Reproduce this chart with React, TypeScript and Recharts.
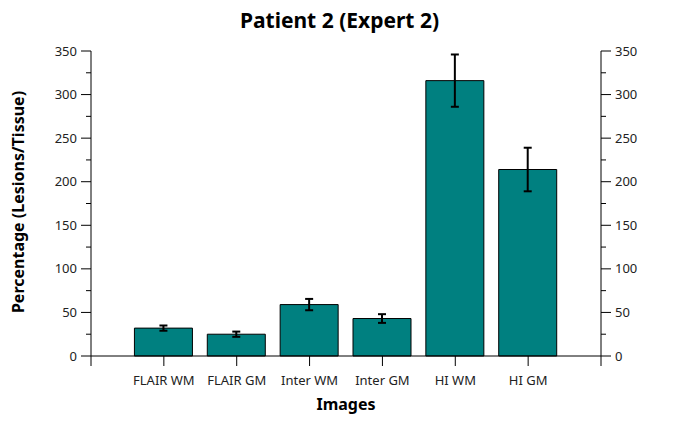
import { ComposedChart, Bar, Line, XAxis, YAxis, ErrorBar } from 'recharts'

document.body.style.margin = '0'

const categories = ['FLAIR WM', 'FLAIR GM', 'Inter WM', 'Inter GM', 'HI WM', 'HI GM']
const values = [32, 25, 59, 43, 316, 214]
const errors = [3, 3, 6.5, 5, 30, 25]
const yTicks = [0, 25, 50, 75, 100, 125, 150, 175, 200, 225, 250, 275, 300, 325, 350]
const xTicks = [0, 1, 2, 3, 4, 5, 6, 7]

const data = categories.map((name, i) => ({ pos: i + 1, name, value: values[i], err: errors[i] }))

const FONT = '"Noto Sans", sans-serif'

function LeftTick(props: any) {
    const { x, y, payload } = props
    const axisX = x + 14
    const major = payload.value % 50 === 0
    return (
        <g>
            <line x1={axisX} x2={axisX - (major ? 10 : 5)} y1={y} y2={y} stroke="#000" />
            {major && (
                <text x={axisX - 14} y={y} dy="0.35em" textAnchor="end" fontSize={13} fill="#222" fontFamily={FONT}>
                    {payload.value}
                </text>
            )}
        </g>
    )
}

function RightTick(props: any) {
    const { x, y, payload } = props
    const axisX = x - 14
    const major = payload.value % 50 === 0
    return (
        <g>
            <line x1={axisX} x2={axisX + (major ? 10 : 5)} y1={y} y2={y} stroke="#000" />
            {major && (
                <text x={axisX + 14} y={y} dy="0.35em" textAnchor="start" fontSize={13} fill="#222" fontFamily={FONT}>
                    {payload.value}
                </text>
            )}
        </g>
    )
}

export default function App() {
    return (
        <div style={{ position: 'relative', width: 679, height: 425, fontFamily: FONT, background: '#fff' }}>
            <ComposedChart width={679} height={425} data={data} margin={{ top: 51, right: 0, bottom: 0, left: 0 }}>
                <XAxis
                    dataKey="pos"
                    type="number"
                    domain={[0, 7]}
                    ticks={xTicks}
                    interval={0}
                    height={69}
                    stroke="#000"
                    tickSize={10}
                    tickMargin={10}
                    tick={{ fontSize: 13, fill: '#222', fontFamily: FONT }}
                    tickFormatter={(v: number) => categories[v - 1] ?? ''}
                />
                <YAxis
                    yAxisId="left"
                    orientation="left"
                    width={91}
                    domain={[0, 350]}
                    ticks={yTicks}
                    interval={0}
                    stroke="#000"
                    tickLine={false}
                    tickSize={10}
                    tickMargin={4}
                    tick={<LeftTick />}
                />
                <YAxis
                    yAxisId="right"
                    orientation="right"
                    width={78}
                    domain={[0, 350]}
                    ticks={yTicks}
                    interval={0}
                    stroke="#000"
                    tickLine={false}
                    tickSize={10}
                    tickMargin={4}
                    tick={<RightTick />}
                />
                <Bar yAxisId="left" dataKey="value" fill="#008080" stroke="#000" strokeWidth={1} barSize={58} isAnimationActive={false}>
                    <ErrorBar dataKey="err" width={4} stroke="#000" strokeWidth={2} direction="y" />
                </Bar>
                {/* invisible series so the right axis gets its ticks */}
                <Line yAxisId="right" dataKey="value" stroke="none" dot={false} activeDot={false} legendType="none" isAnimationActive={false} />
            </ComposedChart>
            <div style={{ position: 'absolute', top: 6, left: 0, width: 679, textAlign: 'center', fontSize: 21, lineHeight: '28px', fontWeight: 'bold', color: '#000' }}>
                Patient 2 (Expert 2)
            </div>
            <div style={{ position: 'absolute', top: 393, left: 91, width: 510, textAlign: 'center', fontSize: 16, lineHeight: '22px', fontWeight: 'bold', color: '#000' }}>
                Images
            </div>
            <div style={{ position: 'absolute', left: 18, top: 202, transform: 'translate(-50%, -50%) rotate(-90deg)', whiteSpace: 'nowrap', fontSize: 16, lineHeight: '22px', fontWeight: 'bold', color: '#000' }}>
                Percentage (Lesions/Tissue)
            </div>
        </div>
    )
}
